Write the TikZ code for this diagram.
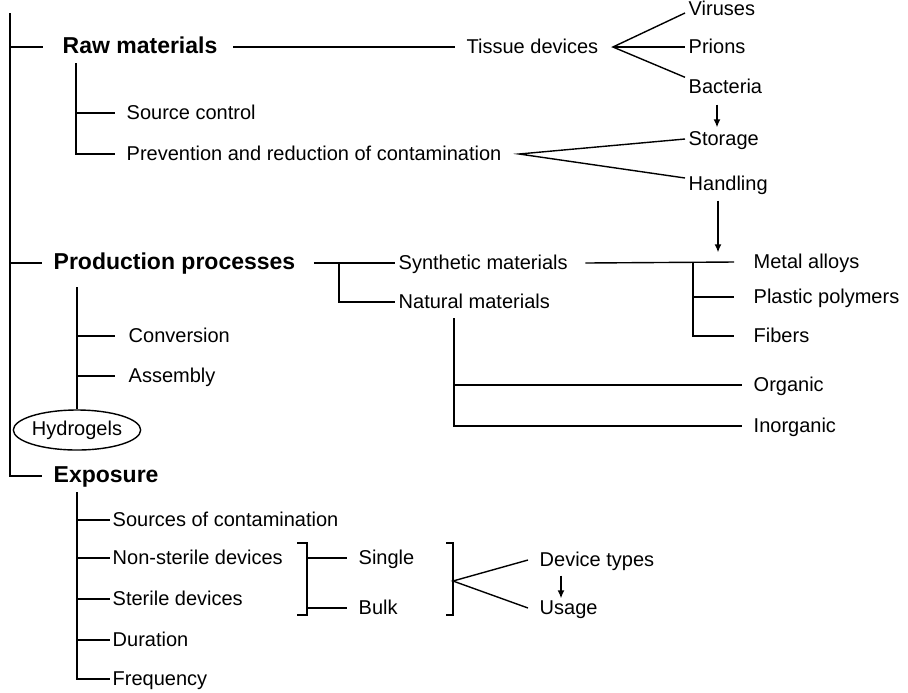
\documentclass[tikz,border=0pt]{standalone}
\usepackage{fontspec}
\setmainfont{Liberation Sans}
\usetikzlibrary{shapes.geometric,arrows.meta}
\begin{document}
\begin{tikzpicture}[x=0.5pt,y=-0.5pt,line width=0.7pt,
  txt/.style={anchor=west,font=\fontsize{10}{12}\selectfont,text height=7.5pt,text depth=1.5pt},
  head/.style={txt,font=\fontsize{11.5}{14}\selectfont\bfseries},
  gel/.style={ellipse,draw,font=\fontsize{10}{12}\selectfont,minimum width=61.5pt,minimum height=20pt},
  arr/.style={-{Latex[length=4pt,width=3.5pt]}}]
  \tikzstyle{every node}+=[inner sep=0pt]
  \useasboundingbox (0,0) rectangle (908,692);
  % raw materials
  \node[head] (raw) at (62,47) {Raw materials};
  \node[txt] (tissue) at (466,47) {Tissue devices};
  \node[txt] (viruses) at (688,9) {Viruses};
  \node[txt] (prions) at (688,47) {Prions};
  \node[txt] (bacteria) at (688,87) {Bacteria};
  \node[txt] (source) at (126,113) {Source control};
  \node[txt] (prev) at (126,154) {Prevention and reduction of contamination};
  \node[txt] (storage) at (688,139) {Storage};
  \node[txt] (handling) at (688,184) {Handling};
  % production processes
  \node[head] (prod) at (53,263) {Production processes};
  \node[txt] (synth) at (398,263) {Synthetic materials};
  \node[txt] (natural) at (398,302) {Natural materials};
  \node[txt] (metal) at (753,262) {Metal alloys};
  \node[txt] (plastic) at (753,297) {Plastic polymers};
  \node[txt] (fibers) at (753,336) {Fibers};
  \node[txt] (organic) at (753,385) {Organic};
  \node[txt] (inorganic) at (753,426) {Inorganic};
  \node[txt] (conv) at (128,336) {Conversion};
  \node[txt] (assem) at (128,376) {Assembly};
  \node[gel] (hydro) at (77,430) {Hydrogels};
  % exposure
  \node[head] (expo) at (53,476) {Exposure};
  \node[txt] (sources) at (112,520) {Sources of contamination};
  \node[txt] (nonster) at (112,558) {Non-sterile devices};
  \node[txt] (sterile) at (112,599) {Sterile devices};
  \node[txt] (duration) at (112,640) {Duration};
  \node[txt] (freq) at (112,679) {Frequency};
  \node[txt] (single) at (358,558) {Single};
  \node[txt] (bulk) at (358,608) {Bulk};
  \node[txt] (devtypes) at (539,560) {Device types};
  \node[txt] (usage) at (539,608) {Usage};

  \coordinate (trunk) at (10,13);
  \coordinate (rawsub) at (76,63);
  \coordinate (prodsub) at (77,287);
  \coordinate (exposub) at (77,492);
  \coordinate (pj) at (339,263);
  \coordinate (sj) at (693,263);
  \coordinate (nj) at (454,318);
  \coordinate (b1t) at (307,543);
  \coordinate (b1b) at (307,615);
  \coordinate (b2t) at (453,543);
  \coordinate (b2b) at (453,615);
  \coordinate (dfan) at (453,581);

  \draw (trunk) |- ([xshift=-5.5pt]expo.west);
  \draw (trunk |- raw.west) -- ([xshift=-9.5pt]raw.west);
  \draw (trunk |- prod.west) -- ([xshift=-5.5pt]prod.west);

  \draw ([xshift=7.5pt]raw.east) -- ([xshift=-5.5pt]tissue.west);
  \coordinate (tfan) at ([xshift=7pt]tissue.east);
  \draw ([xshift=-1.5pt,yshift=-2pt]viruses.west) -- (tfan) -- ([xshift=-1.5pt]bacteria.north west);
  \draw (tfan) -- ([xshift=-1.5pt]prions.west);
  \draw (rawsub) |- ([xshift=-5.5pt]prev.west);
  \draw (rawsub |- source.west) -- ([xshift=-5.5pt]source.west);
  \coordinate (pfan) at ([xshift=8.5pt]prev.east);
  \draw ([xshift=-1.5pt]storage.west) -- (pfan) -- ([xshift=-1.5pt,yshift=3pt]handling.west);
  \draw[arr] ([xshift=14.5pt,yshift=-4pt]bacteria.south west) -- ([xshift=14.5pt,yshift=1pt]storage.north west);
  \draw[arr] ([xshift=15pt,yshift=-3.5pt]handling.south west) -- ([xshift=15pt]handling.south west |- metal.north);

  \draw ([xshift=9pt]prod.east) -- ([xshift=-1.5pt]synth.west);
  \draw (pj) |- ([xshift=-1.5pt]natural.west);
  \draw ([xshift=8.5pt]synth.east) -- ([xshift=-9.5pt]metal.west);
  \draw (sj) |- ([xshift=-9.5pt]fibers.west);
  \draw (sj |- plastic.west) -- ([xshift=-9.5pt]plastic.west);
  \draw (nj) |- ([xshift=-5.5pt]inorganic.west);
  \draw (nj |- organic.west) -- ([xshift=-5.5pt]organic.west);
  \draw (prodsub) -- (hydro.north);
  \draw (prodsub |- conv.west) -- ([xshift=-6.5pt]conv.west);
  \draw (prodsub |- assem.west) -- ([xshift=-6.5pt]assem.west);

  \draw (exposub) |- ([xshift=-1pt]freq.west);
  \foreach \n in {sources,nonster,sterile,duration}
    \draw (exposub |- \n.west) -- ([xshift=-1pt]\n.west);
  \draw ([xshift=-5pt]b1t) -- (b1t) -- (b1b) -- ([xshift=-5pt]b1b);
  \draw (b1t |- single.west) -- ([xshift=-5.5pt]single.west);
  \draw (b1t |- bulk.west) -- ([xshift=-5.5pt]bulk.west);
  \draw ([xshift=-3.5pt]b2t) -- (b2t) -- (b2b) -- ([xshift=-3.5pt]b2b);
  \draw ([xshift=-5.5pt]devtypes.west) -- (dfan) -- ([xshift=-5.5pt]usage.west);
  \draw[arr] ([xshift=11pt,yshift=-3pt]devtypes.south west) -- ([xshift=11pt]usage.north west);
\end{tikzpicture}
\end{document}
